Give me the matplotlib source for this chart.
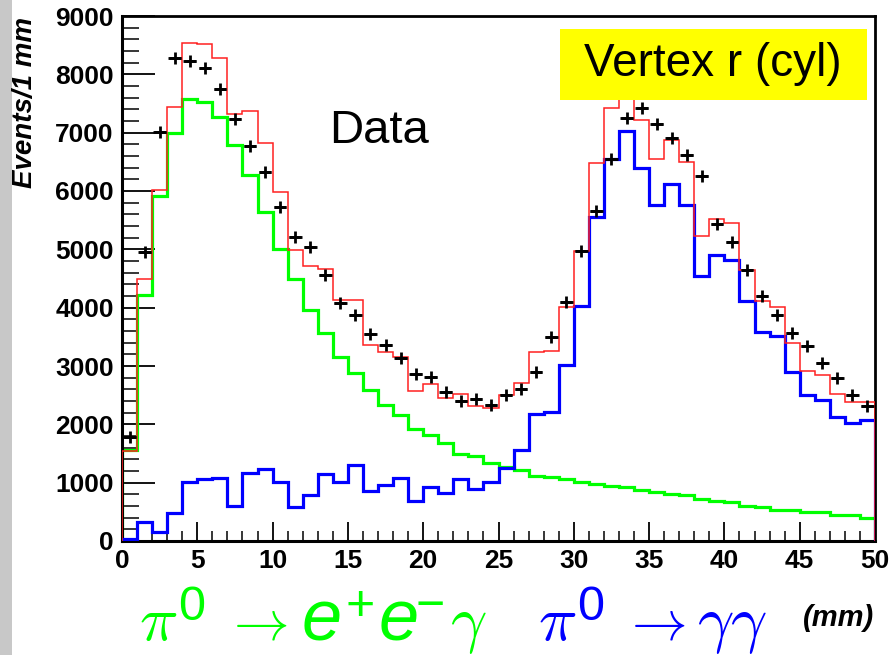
import numpy as np
import matplotlib
matplotlib.use("Agg")
import matplotlib.pyplot as plt
from matplotlib.patches import Rectangle

plt.rcParams['font.family'] = ['Liberation Sans', 'DejaVu Sans']
plt.rcParams['mathtext.fontset'] = 'custom'
plt.rcParams['mathtext.rm'] = 'Liberation Sans'
plt.rcParams['mathtext.it'] = 'Liberation Sans:italic'
plt.rcParams['mathtext.bf'] = 'Liberation Sans:bold'

# ---- data ----
bin_edges = np.arange(0, 51, 1)

mc_dalitz = [1560, 4222, 5915, 6997, 7573, 7527, 7271, 6786, 6274, 5647,
             5009, 4490, 3954, 3567, 3157, 2872, 2587, 2325, 2154, 1926,
             1812, 1687, 1487, 1459, 1333, 1276, 1219, 1117, 1099, 1060,
             1003, 974, 945, 929, 877, 832, 803, 786, 718, 689,
             661, 604, 576, 530, 530, 490, 490, 444, 444, 388]

mc_gg = [30, 320, 148, 479, 1014, 1060, 1083, 593, 1174, 1242,
         1003, 576, 786, 1145, 1014, 1311, 849, 957, 1085, 678,
         918, 820, 1060, 889, 1014, 1259, 1561, 2171, 2217, 3014,
         4022, 5561, 6541, 7031, 6400, 5761, 6125, 5761, 4547, 4895,
         4821, 4120, 3585, 3521, 2900, 2496, 2410, 2125, 2017, 2068]

mc_total = [1540, 4490, 6017, 7441, 8535, 8525, 8285, 7328, 7373, 6826,
            5977, 4991, 4712, 4661, 4125, 4125, 3368, 3236, 3160, 2570,
            2695, 2456, 2513, 2313, 2274, 2501, 2712, 3236, 3265, 4012,
            4980, 6484, 7420, 7950, 7214, 6547, 6872, 6501, 5225, 5516,
            5452, 4638, 4108, 4012, 3396, 2912, 2843, 2513, 2388, 2388]

data_counts = [1783, 4946, 7014, 8279, 8228, 8114, 7755, 7231, 6769, 6330,
               5721, 5209, 5038, 4558, 4080, 3869, 3544, 3356, 3140, 2855,
               2815, 2559, 2398, 2427, 2330, 2496, 2610, 2900, 3493, 4097,
               4980, 5664, 6550, 7248, 7430, 7150, 6906, 6610, 6256, 5440,
               5120, 4650, 4205, 3869, 3567, 3339, 3043, 2786, 2496, 2313]

x_ticks = [0, 5, 10, 15, 20, 25, 30, 35, 40, 45, 50]
y_ticks = [0, 1000, 2000, 3000, 4000, 5000, 6000, 7000, 8000, 9000]

W, H = 891, 655


def fx(px):
    return px / W


def fy(py):
    return 1 - py / H


# ---- figure ----
fig = plt.figure(figsize=(8.91, 6.55), dpi=100)
fig.patch.set_facecolor('white')
fig.add_artist(Rectangle((0, 0), 12 / W, 1, transform=fig.transFigure,
                         facecolor='#c8c8c8', edgecolor='none', zorder=0))

ax = fig.add_axes([fx(122), fy(541), (875 - 122) / W, (541 - 16) / H])

ax.stairs(mc_dalitz, bin_edges, color='#00ff00', linewidth=2.3, zorder=2)
ax.stairs(mc_gg, bin_edges, color='#0000ff', linewidth=2.3, zorder=3)
ax.stairs(mc_total, bin_edges, color='#ff2020', linewidth=1.1, zorder=4)

centers = (bin_edges[:-1] + bin_edges[1:]) / 2
ax.errorbar(centers, data_counts, xerr=0.42, fmt='+', color='black',
            markersize=9, mew=2.0, elinewidth=2.0, capsize=0, zorder=5)

ax.set_xlim(0, 50)
ax.set_ylim(0, 9000)
ax.set_xticks(x_ticks)
ax.set_yticks(y_ticks)
ax.set_xticks(np.arange(0, 51, 1), minor=True)
ax.set_yticks(np.arange(0, 9001, 200), minor=True)
ax.tick_params(axis='x', which='major', direction='in', length=14, width=1.3,
               labelsize=19, pad=6, top=False)
ax.tick_params(axis='x', which='minor', direction='in', length=7, width=1.1, top=False)
ax.tick_params(axis='y', which='major', direction='in', length=24, width=1.3,
               labelsize=19, pad=6, right=False)
ax.tick_params(axis='y', which='minor', direction='in', length=12, width=1.1, right=False)
for lab in ax.get_xticklabels() + ax.get_yticklabels():
    lab.set_fontweight('bold')
for side in ['left', 'bottom']:
    ax.spines[side].set_linewidth(2.2)
for side in ['top', 'right']:
    ax.spines[side].set_linewidth(2.0)

fig.text(fx(25), fy(102), 'Events/1 mm', rotation=90, ha='center', va='center',
         fontsize=20, fontweight='bold', fontstyle='italic')

fig.text(fx(379), fy(131), 'Data', ha='center', va='center', fontsize=34, color='black')

fig.add_artist(Rectangle((fx(560), fy(100)), 307 / W, 71 / H,
                         transform=fig.transFigure, facecolor='#ffff00',
                         edgecolor='none', zorder=10))
fig.text(fx(713), fy(64), 'Vertex r (cyl)', ha='center', va='center',
         fontsize=33, color='black', zorder=11)

# ---- decay labels under the axis ----
base = fy(640)
sup = fy(620)
green = '#00ff00'
blue = '#0000ff'


def piece(px, y, s, color, size, **kw):
    fig.text(fx(px), y, s, ha='left', va='baseline', fontsize=size, color=color, **kw)


# pi0 -> e+ e- gamma
piece(139, base, r'$\pi$', green, 46, math_fontfamily='cm')
piece(178, sup, '0', green, 35)
piece(224, base, r'$\rightarrow$', green, 40, math_fontfamily='cm')
piece(301, base, r'$e$', green, 52)
piece(345, sup, '+', green, 36)
piece(378, base, r'$e$', green, 52)
piece(416, sup, '\u2212', green, 36)
piece(450, base, r'$\gamma$', green, 46, math_fontfamily='cm')

# pi0 -> gamma gamma
piece(538, base, r'$\pi$', blue, 46, math_fontfamily='cm')
piece(577, sup, '0', blue, 35)
piece(622, base, r'$\rightarrow$', blue, 40, math_fontfamily='cm')
piece(697, base, r'$\gamma\gamma$', blue, 46, math_fontfamily='cm')

fig.text(fx(839), fy(626), '(mm)', ha='center', va='baseline',
         fontsize=21, fontweight='bold', fontstyle='italic', color='black')

fig.savefig('out.png', dpi=100)
